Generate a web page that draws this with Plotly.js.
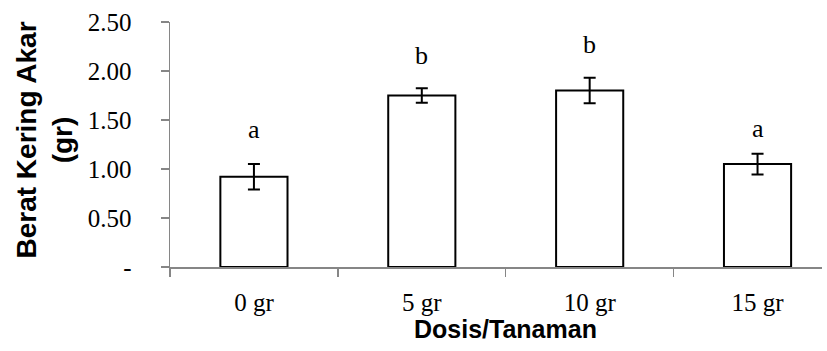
<!DOCTYPE html>
<html><head><meta charset="utf-8">
<script src="https://cdn.plot.ly/plotly-3.0.1.min.js"></script>
<style>html,body{margin:0;padding:0;background:#fff}</style>
</head><body><div id="chart" style="width:827px;height:351px"></div>
<script>
const categories = ["0 gr", "5 gr", "10 gr", "15 gr"];
const values = [0.92, 1.75, 1.80, 1.05];
const errors = [0.13, 0.075, 0.13, 0.105];
const letters = ["a", "b", "b", "a"];
const letterY = [1.40, 2.16, 2.27, 1.415];
const yTickVals = [0, 0.5, 1, 1.5, 2, 2.5];
const yTickText = ["-", "0.50", "1.00", "1.50", "2.00", "2.50"];
const xTitle = "Dosis/Tanaman";
const yTitle = "Berat Kering Akar<br>(gr)";

const serif = "Liberation Serif";
const grey = "#868686";

const trace = {
  type: "bar",
  x: categories,
  y: values,
  width: 0.4,
  marker: {color: "#ffffff", line: {color: "#000000", width: 2}},
  error_y: {type: "data", array: errors, visible: true, color: "#000000", thickness: 2, width: 6},
  hoverinfo: "skip"
};

const annotations = letters.map((t, i) => ({
  x: i, y: letterY[i], xref: "x", yref: "y", text: t, showarrow: false,
  xanchor: "center", yanchor: "middle",
  font: {family: serif, size: 26, color: "#000"}
}));
annotations.push({
  x: 1.5, y: 0, xref: "x", yref: "paper", text: xTitle, showarrow: false,
  xanchor: "center", yanchor: "middle", yshift: -62,
  font: {family: "Liberation Sans", size: 25, color: "#000", weight: "bold"}
});
annotations.push({
  x: 0, y: 0.5, xref: "paper", yref: "paper", text: yTitle, showarrow: false,
  textangle: -90, xanchor: "center", yanchor: "middle", xshift: -126, yshift: 4,
  font: {family: "Liberation Sans", size: 28, color: "#000", weight: "bold"}
});

const layout = {
  width: 827, height: 351,
  margin: {l: 170, r: 5, t: 22, b: 84, pad: 0},
  paper_bgcolor: "#fff", plot_bgcolor: "#fff",
  showlegend: false,
  bargap: 0.6,
  xaxis: {
    type: "category", range: [-0.5, 3.384], tickson: "boundaries",
    ticks: "outside", ticklen: 8, tickwidth: 1.5, tickcolor: grey,
    showline: true, linecolor: grey, linewidth: 1.5, showgrid: false, zeroline: false,
    tickfont: {family: serif, size: 25, color: "#000"}, ticklabelstandoff: 12
  },
  yaxis: {
    range: [0, 2.5], tickvals: yTickVals, ticktext: yTickText,
    ticks: "outside", ticklen: 8, tickwidth: 1.5, tickcolor: grey,
    showline: true, linecolor: grey, linewidth: 1.5, showgrid: false, zeroline: false,
    tickfont: {family: serif, size: 25, color: "#000"}, ticklabelstandoff: 24
  },
  annotations: annotations
};

Plotly.newPlot("chart", [trace], layout, {displayModeBar: false, staticPlot: true});
</script></body></html>
